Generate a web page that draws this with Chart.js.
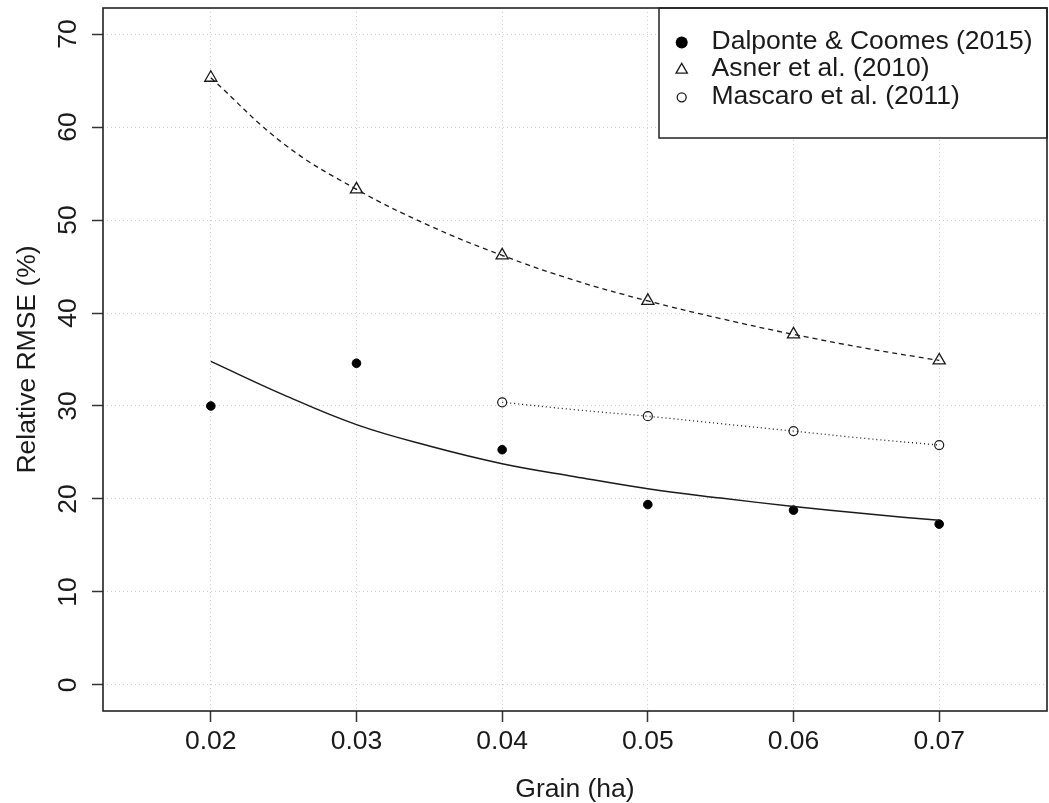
<!DOCTYPE html>
<html>
<head>
<meta charset="utf-8">
<script src="https://cdn.jsdelivr.net/npm/chart.js@4/dist/chart.umd.min.js"></script>
<style>
  html, body { margin: 0; padding: 0; background: #ffffff; overflow: hidden; }
  #wrap { width: 1049px; height: 803px; }
  canvas { display: block; }
</style>
</head>
<body>
<div id="wrap"><canvas id="c" width="1049" height="803"></canvas></div>
<script>
// ---- data ----
const xTicks = [0.02, 0.03, 0.04, 0.05, 0.06, 0.07];
const yTicks = [0, 10, 20, 30, 40, 50, 60, 70];

const grain = [0.02, 0.03, 0.04, 0.05, 0.06, 0.07];
const dalponte = [30.0, 34.6, 25.3, 19.4, 18.8, 17.3];
const asner = [65.3, 53.3, 46.2, 41.3, 37.7, 34.9];

const mascaroGrain = [0.04, 0.05, 0.06, 0.07];
const mascaro = [30.4, 28.9, 27.3, 25.8];

// fitted curves, read at 0.005 ha steps
const fitGrain = [0.02, 0.025, 0.03, 0.035, 0.04, 0.045, 0.05, 0.055, 0.06, 0.065, 0.07];
const dalponteFit = [34.8, 31.2, 28.0, 25.7, 23.8, 22.4, 21.1, 20.1, 19.2, 18.4, 17.7];
const asnerFit = [65.3, 58.2, 53.3, 49.4, 46.2, 43.5, 41.3, 39.4, 37.7, 36.2, 34.9];
const mascaroFitGrain = [0.04, 0.045, 0.05, 0.055, 0.06, 0.065, 0.07];
const mascaroFit = [30.4, 29.6, 28.9, 28.1, 27.3, 26.5, 25.8];

const legendLabels = ['Dalponte & Coomes (2015)', 'Asner et al. (2010)', 'Mascaro et al. (2011)'];

// ---- helpers ----
const pts = (xs, ys) => xs.map((x, i) => ({ x: x, y: ys[i] }));
const FONT = '"Liberation Sans", Arial, Helvetica, sans-serif';
const INK = '#1a1a1a';

const boxPlugin = {
  id: 'rbox',
  afterDatasetsDraw(chart) {
    const ctx = chart.ctx;
    const a = chart.chartArea;
    // legend box (top right, inside the plot)
    const lx1 = 659, ly1 = a.top, lx2 = a.right, ly2 = 138;
    ctx.save();
    ctx.fillStyle = '#ffffff';
    ctx.fillRect(lx1, ly1, lx2 - lx1, ly2 - ly1);
    ctx.strokeStyle = '#222222';
    ctx.lineWidth = 1.5;
    ctx.strokeRect(lx1, ly1, lx2 - lx1, ly2 - ly1);
    const rows = [41.5, 68.9, 96.3];
    const sx = 681.7, tx = 711.5;
    ctx.font = '26.5px ' + FONT;
    ctx.fillStyle = INK;
    ctx.textBaseline = 'middle';
    ctx.textAlign = 'left';
    legendLabels.forEach((t, i) => ctx.fillText(t, tx, rows[i]));
    // legend symbols
    ctx.strokeStyle = INK;
    ctx.lineWidth = 1.3;
    ctx.beginPath(); ctx.arc(sx, rows[0] + 1, 6, 0, Math.PI * 2); ctx.fillStyle = '#000'; ctx.fill();
    const r = 6.5, ty = rows[1] + 1;
    ctx.beginPath();
    ctx.moveTo(sx, ty - r);
    ctx.lineTo(sx + r * 0.866, ty + r / 2);
    ctx.lineTo(sx - r * 0.866, ty + r / 2);
    ctx.closePath(); ctx.stroke();
    ctx.beginPath(); ctx.arc(sx, rows[2] + 1, 4.5, 0, Math.PI * 2); ctx.stroke();
    // plot frame
    ctx.strokeStyle = '#222222';
    ctx.lineWidth = 1.6;
    ctx.strokeRect(a.left, a.top, a.right - a.left, a.bottom - a.top);
    ctx.restore();
  }
};

new Chart(document.getElementById('c'), {
  type: 'scatter',
  data: {
    datasets: [
      { label: 'Dalponte fit', data: pts(fitGrain, dalponteFit), showLine: true, pointRadius: 0,
        borderColor: INK, borderWidth: 1.5, tension: 0.4, fill: false },
      { label: 'Asner fit', data: pts(fitGrain, asnerFit), showLine: true, pointRadius: 0,
        borderColor: INK, borderWidth: 1.3, borderDash: [5, 4], tension: 0.4, fill: false },
      { label: 'Mascaro fit', data: pts(mascaroFitGrain, mascaroFit), showLine: true, pointRadius: 0,
        borderColor: INK, borderWidth: 1.3, borderDash: [1, 3], tension: 0.4, fill: false },
      { label: legendLabels[0], data: pts(grain, dalponte), showLine: false, pointStyle: 'circle',
        pointRadius: 4.3, backgroundColor: '#000000', borderColor: '#000000', borderWidth: 1 },
      { label: legendLabels[1], data: pts(grain, asner), showLine: false, pointStyle: 'triangle',
        pointRadius: 7, backgroundColor: 'rgba(0,0,0,0)', borderColor: INK, borderWidth: 1.3 },
      { label: legendLabels[2], data: pts(mascaroGrain, mascaro), showLine: false, pointStyle: 'circle',
        pointRadius: 4.5, backgroundColor: 'rgba(0,0,0,0)', borderColor: INK, borderWidth: 1.2 }
    ]
  },
  options: {
    responsive: false,
    animation: false,
    layout: { autoPadding: false, padding: { top: 8, right: 2, left: 0, bottom: 0 } },
    plugins: { legend: { display: false }, tooltip: { enabled: false } },
    scales: {
      x: {
        type: 'linear', min: 0.0126, max: 0.0774,
        afterBuildTicks: s => { s.ticks = xTicks.map(v => ({ value: v })); },
        afterFit: s => { s.height = 92; s.paddingLeft = 0; s.paddingRight = 0; },
        ticks: { padding: 4, color: INK, font: { family: FONT, size: 26.5 },
                 maxRotation: 0, minRotation: 0, callback: v => Number(v).toFixed(2) },
        grid: { color: '#d0d0d0', lineWidth: 1, drawTicks: true, tickLength: 11,
                tickColor: '#333333', tickWidth: 1.5, tickBorderDash: [] },
        border: { display: false, dash: [1, 3] },
        title: { display: true, text: 'Grain (ha)', color: INK,
                 font: { family: FONT, size: 26.5, lineHeight: 1 }, padding: { top: 0, bottom: 0 } }
      },
      y: {
        type: 'linear', min: -2.8, max: 72.8,
        afterBuildTicks: s => { s.ticks = yTicks.map(v => ({ value: v })); },
        afterFit: s => { s.width = 103; s.paddingTop = 0; s.paddingBottom = 0; },
        ticks: { padding: 9, color: INK, font: { family: FONT, size: 26.5 },
                 minRotation: 90, maxRotation: 90, crossAlign: 'center',
                 callback: v => String(v) },
        grid: { color: '#d0d0d0', lineWidth: 1, drawTicks: true, tickLength: 11,
                tickColor: '#333333', tickWidth: 1.5, tickBorderDash: [] },
        border: { display: false, dash: [1, 3] },
        title: { display: true, text: 'Relative RMSE (%)', color: INK,
                 font: { family: FONT, size: 26.5, lineHeight: 1 }, padding: { top: 14, bottom: 0 } }
      }
    }
  },
  plugins: [boxPlugin]
});
</script>
</body>
</html>
